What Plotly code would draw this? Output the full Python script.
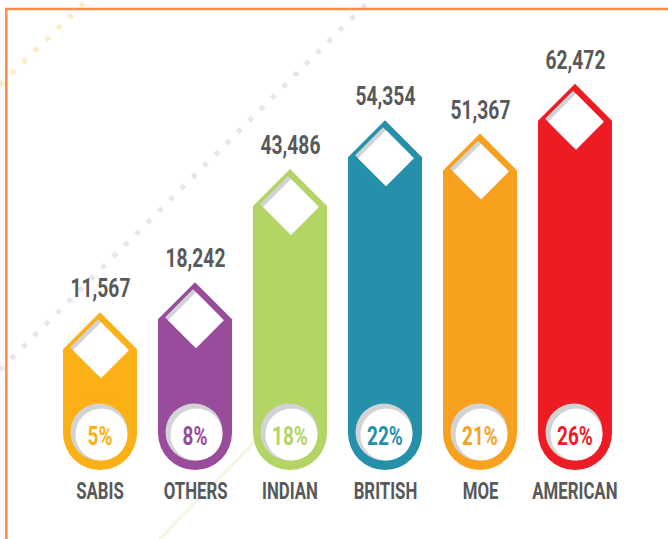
import plotly.graph_objects as go

# ---------------- data ----------------
categories = ["SABIS", "OTHERS", "INDIAN", "BRITISH", "MOE", "AMERICAN"]
values = [11567, 18242, 43486, 54354, 51367, 62472]
value_labels = ["11,567", "18,242", "43,486", "54,354", "51,367", "62,472"]
shares = ["5%", "8%", "18%", "22%", "21%", "26%"]
colors = ["#fbb016", "#994b9c", "#b2d565", "#2490aa", "#f8a11f", "#ed1c24"]

# ---------------- layout geometry ----------------
W, H = 668, 539
X0, X1 = -1.0526, 5.9789          # x axis range (category index units)
Y0, Y1 = -30700, 89375            # y axis range (value units)
PX_X = W / (X1 - X0)              # pixels per x unit
UPP_Y = (Y1 - Y0) / H             # value units per pixel
BAR_W_PX = 74
BASE = Y1 - 433 * UPP_Y           # value at the centre of the rounded bottom

TEXT_GRAY = "#58595b"
SHADOW = "#d1d3d4"
FONT = "Roboto, Liberation Sans, sans-serif"

xs = list(range(len(categories)))

fig = go.Figure()

# bar bodies
fig.add_trace(go.Bar(
    x=xs, y=[v - BASE for v in values], base=BASE,
    width=BAR_W_PX / PX_X, marker=dict(color=colors, line=dict(width=0)),
    hoverinfo="skip"))

# pointed tops
fig.add_trace(go.Scatter(
    x=xs, y=values, mode="markers",
    marker=dict(symbol="diamond", size=BAR_W_PX / 1.3, color=colors, line=dict(width=0)),
    hoverinfo="skip"))

# rounded bottoms
fig.add_trace(go.Scatter(
    x=xs, y=[BASE] * len(xs), mode="markers",
    marker=dict(symbol="circle", size=BAR_W_PX, color=colors, line=dict(width=0)),
    hoverinfo="skip"))

# diamond windows (shadow + white)
fig.add_trace(go.Scatter(
    x=[x - 2 / PX_X for x in xs], y=[v + 2 * UPP_Y for v in values], mode="markers",
    marker=dict(symbol="diamond", size=43, color=SHADOW, line=dict(width=0)),
    hoverinfo="skip"))
fig.add_trace(go.Scatter(
    x=[x + 1 / PX_X for x in xs], y=[v - 1 * UPP_Y for v in values], mode="markers",
    marker=dict(symbol="diamond", size=43, color="white", line=dict(width=0)),
    hoverinfo="skip"))

# circle windows (shadow + white)
fig.add_trace(go.Scatter(
    x=[x - 1 / PX_X for x in xs], y=[BASE + 1 * UPP_Y] * len(xs), mode="markers",
    marker=dict(symbol="circle", size=57, color=SHADOW, line=dict(width=0)),
    hoverinfo="skip"))
fig.add_trace(go.Scatter(
    x=[x + 1.5 / PX_X for x in xs], y=[BASE - 1.5 * UPP_Y] * len(xs), mode="markers",
    marker=dict(symbol="circle", size=52, color="white", line=dict(width=0)),
    hoverinfo="skip"))

# percentage labels
fig.add_trace(go.Scatter(
    x=xs, y=[BASE - 6 * UPP_Y] * len(xs), mode="text", text=shares,
    textposition="middle center",
    textfont=dict(family=FONT, size=25, color=colors, weight="bold"),
    hoverinfo="skip"))

annotations = []
for x, v, lab in zip(xs, values, value_labels):
    annotations.append(dict(
        x=x, y=v, xref="x", yref="y", text=lab, showarrow=False,
        yshift=37 + 24, yanchor="middle",
        font=dict(family=FONT, size=26, color=TEXT_GRAY, weight="bold")))
for x, c in zip(xs, categories):
    annotations.append(dict(
        x=x, y=1 - 491 / H, xref="x", yref="paper", text=c, showarrow=False,
        yanchor="middle",
        font=dict(family=FONT, size=24, color=TEXT_GRAY, weight="bold")))

shapes = [
    # decorative dotted diagonals
    dict(type="line", xref="paper", yref="paper", layer="below",
         x0=0 / W, y0=1 - 370 / H, x1=372 / W, y1=1 - (-2) / H,
         line=dict(color="#ede2f0", width=5, dash="5px,11px")),
    dict(type="line", xref="paper", yref="paper", layer="below",
         x0=0 / W, y0=1 - 85 / H, x1=90 / W, y1=1 - (-3) / H,
         line=dict(color="#fdecc8", width=5, dash="5px,11px")),
    # faint green line
    dict(type="line", xref="paper", yref="paper", layer="below",
         x0=158 / W, y0=1 - 541 / H, x1=300 / W, y1=1 - 395 / H,
         line=dict(color="#f2f7e3", width=3)),
    # orange frame
    dict(type="line", xref="paper", yref="paper", layer="above",
         x0=5 / W, y0=1 - 9 / H, x1=1, y1=1 - 9 / H,
         line=dict(color="#f58d4e", width=2.5)),
    dict(type="line", xref="paper", yref="paper", layer="above",
         x0=6.3 / W, y0=1 - 8 / H, x1=6.3 / W, y1=0,
         line=dict(color="#f58d4e", width=2.5)),
]

fig.update_layout(
    width=W, height=H,
    margin=dict(l=0, r=0, t=0, b=0),
    paper_bgcolor="white", plot_bgcolor="white",
    showlegend=False,
    xaxis=dict(range=[X0, X1], visible=False, fixedrange=True),
    yaxis=dict(range=[Y0, Y1], visible=False, fixedrange=True),
    annotations=annotations, shapes=shapes,
    bargap=0,
)

# remove the page margin and condense the label text horizontally
POST = """
document.body.style.margin = '0';
function squeeze(el, s) {
  el.style.transformBox = 'fill-box';
  el.style.transformOrigin = 'center';
  el.style.transform = 'scaleX(' + s + ')';
}
document.querySelectorAll('g.annotation text').forEach(function (t) {
  var fs = parseFloat(t.style.fontSize);
  squeeze(t, fs >= 25 ? 0.74 : 0.7);
});
document.querySelectorAll('g.textpoint text').forEach(function (t) {
  squeeze(t, 0.76);
});
"""

fig.write_html("out.html", post_script=POST, config={"displayModeBar": False})
